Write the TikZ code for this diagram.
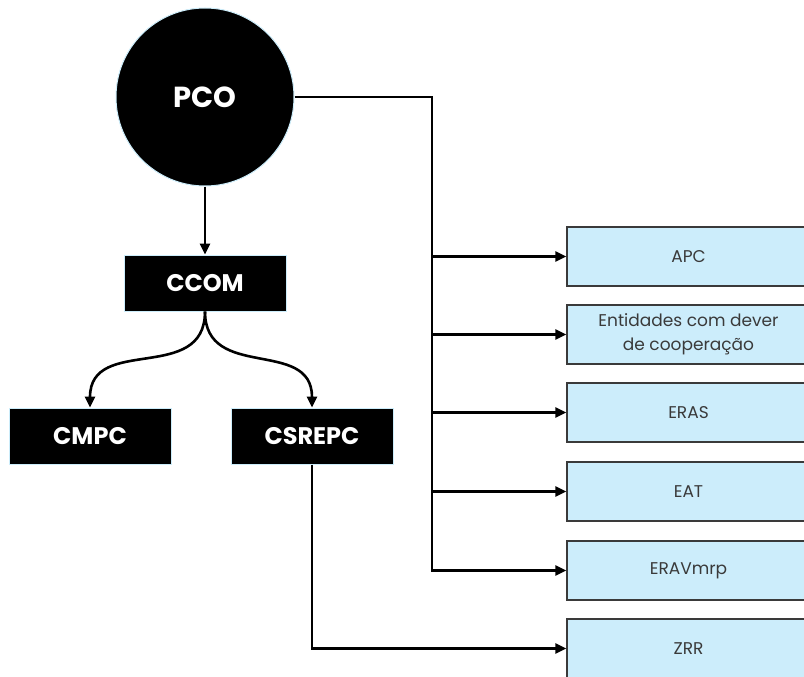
\documentclass[tikz,border=0pt]{standalone}
\usepackage{fontspec}
\setmainfont{Poppins}
\usetikzlibrary{arrows.meta}
\definecolor{paleblue}{HTML}{CCEDFB}
\definecolor{edgegray}{HTML}{3A3A3A}
\tikzset{
  darkbox/.style={draw=paleblue,line width=1pt,fill=black,text=white,
    minimum width=162pt,minimum height=56pt,font=\fontsize{24}{28}\selectfont\bfseries},
  bluebox/.style={draw=edgegray,line width=1.2pt,fill=paleblue,text=edgegray,
    minimum width=243pt,minimum height=59pt,align=center,font=\fontsize{17}{24}\selectfont},
  link/.style={line width=2.6pt,-{Triangle[length=11pt,width=10pt]}},
}
\begin{document}
\begin{tikzpicture}[x=1pt,y=-1pt]
        \clip (0,0) rectangle (804,677);

        \node[circle,draw=paleblue,line width=1pt,fill=black,text=white,minimum size=178pt,
              font=\fontsize{29}{32}\selectfont\bfseries] (pco) at (205,97) {PCO};

        \node[darkbox] (ccom) at (205,283) {CCOM};
        \node[darkbox] (cmpc) at (90,436) {CMPC};
        \node[darkbox] (csrepc) at (312,436) {CSREPC};

        \node[bluebox] (apc) at (688.5,256.5) {APC};
        \node[bluebox] (entidades) at (688.5,334.5) {Entidades com dever\\de cooperação};
        \node[bluebox] (eras) at (688.5,412.5) {ERAS};
        \node[bluebox] (eat) at (688.5,491.5) {EAT};
        \node[bluebox] (eravmrp) at (688.5,570.5) {ERAVmrp};
        \node[bluebox] (zrr) at (688.5,648.5) {ZRR};

        \coordinate (bus) at (432,97);

        \draw[link] (pco) -- (ccom);
        \draw[link] (ccom.south) to[out=-90,in=90,looseness=1.25] (cmpc.north);
        \draw[link] (ccom.south) to[out=-90,in=90,looseness=1.25] (csrepc.north);

        \draw[link] (pco.east) -- (bus) |- (eravmrp.west);
        \draw[link] (bus |- apc.west) -- (apc.west);
        \draw[link] (bus |- entidades.west) -- (entidades.west);
        \draw[link] (bus |- eras.west) -- (eras.west);
        \draw[link] (bus |- eat.west) -- (eat.west);

        \draw[link] (csrepc.south) |- (zrr.west);
    \end{tikzpicture}
\end{document}
